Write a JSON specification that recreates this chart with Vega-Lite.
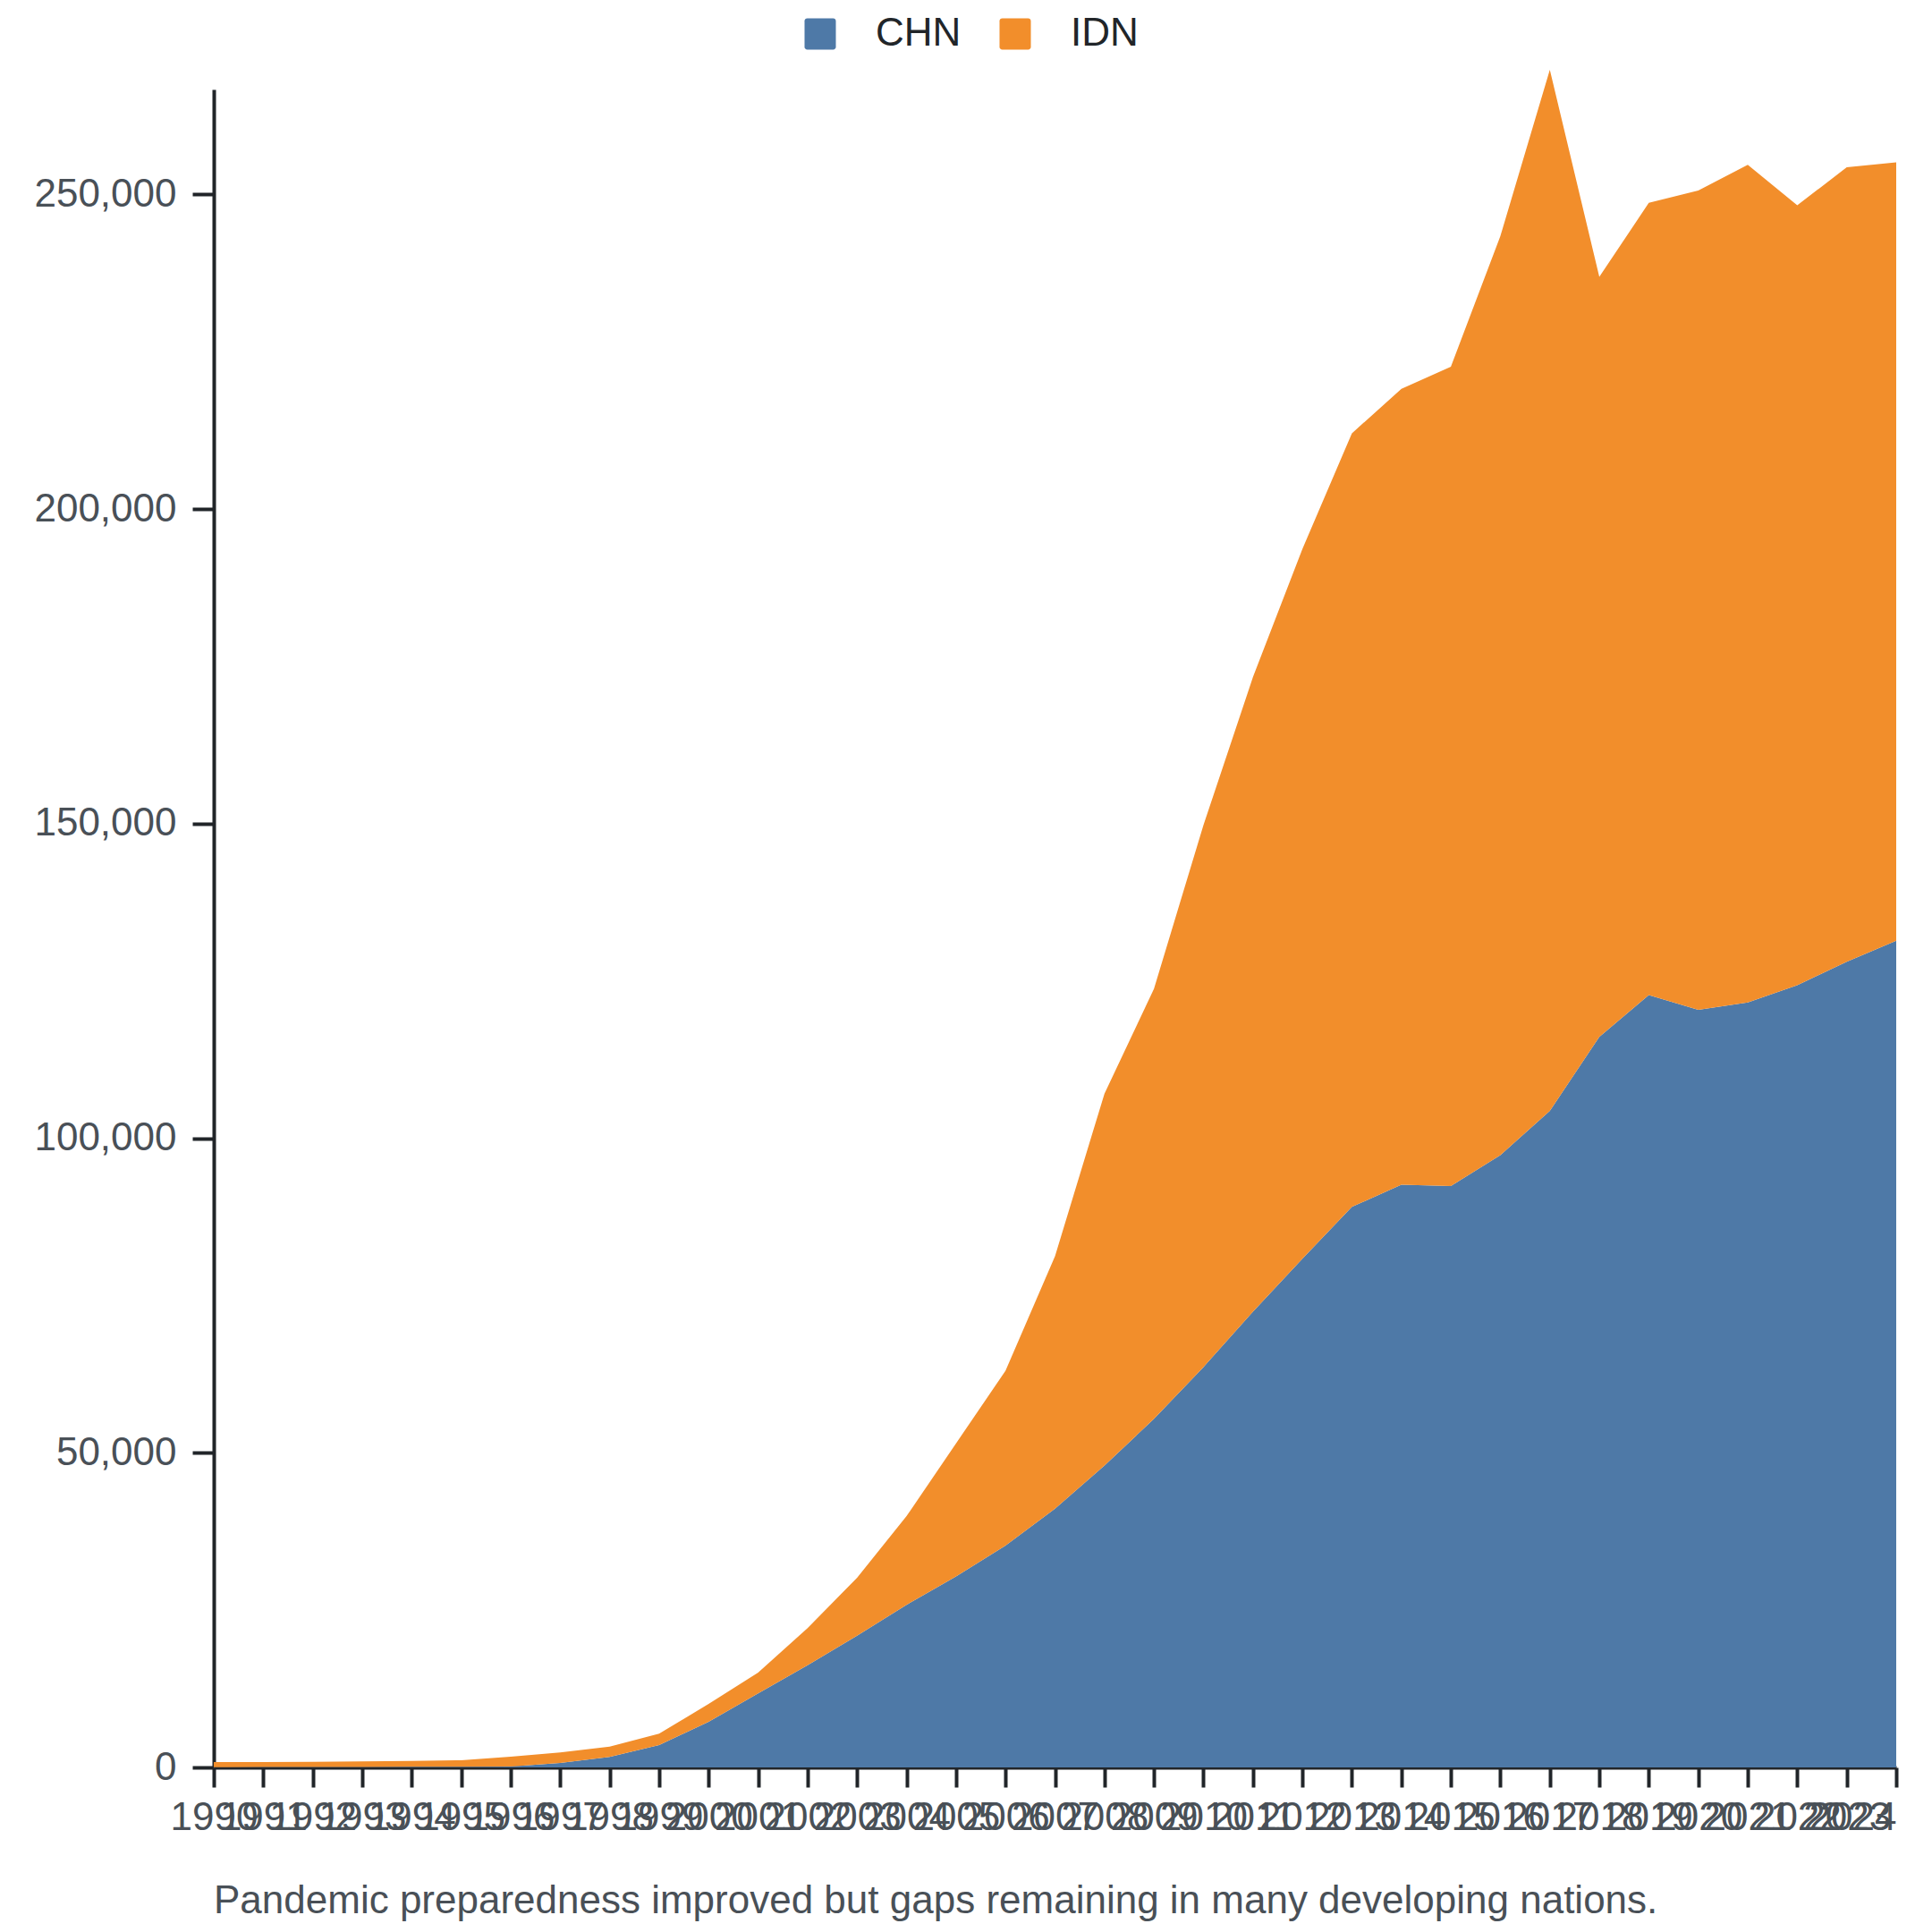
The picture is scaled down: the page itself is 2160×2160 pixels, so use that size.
{
  "$schema": "https://vega.github.io/schema/vega-lite/v6.json",
  "autosize": {"type": "none"},
  "width": 1881,
  "height": 1876,
  "padding": {"left": 239, "top": 100, "right": 40, "bottom": 184},
  "background": "white",
  "title": {
    "text": "Pandemic preparedness improved but gaps remaining in many developing nations.",
    "orient": "bottom",
    "anchor": "start",
    "frame": "group",
    "font": "Liberation Sans",
    "fontSize": 44,
    "fontWeight": "normal",
    "color": "#495057",
    "offset": 50
  },
  "data": {
    "values": [
      {"year": 1990, "country": "CHN", "value": 50},
      {"year": 1991, "country": "CHN", "value": 60},
      {"year": 1992, "country": "CHN", "value": 70},
      {"year": 1993, "country": "CHN", "value": 80},
      {"year": 1994, "country": "CHN", "value": 90},
      {"year": 1995, "country": "CHN", "value": 100},
      {"year": 1996, "country": "CHN", "value": 150},
      {"year": 1997, "country": "CHN", "value": 710},
      {"year": 1998, "country": "CHN", "value": 1660},
      {"year": 1999, "country": "CHN", "value": 3550},
      {"year": 2000, "country": "CHN", "value": 7250},
      {"year": 2001, "country": "CHN", "value": 11748},
      {"year": 2002, "country": "CHN", "value": 16251},
      {"year": 2003, "country": "CHN", "value": 20951},
      {"year": 2004, "country": "CHN", "value": 25846},
      {"year": 2005, "country": "CHN", "value": 30349},
      {"year": 2006, "country": "CHN", "value": 35244},
      {"year": 2007, "country": "CHN", "value": 41118},
      {"year": 2008, "country": "CHN", "value": 47971},
      {"year": 2009, "country": "CHN", "value": 55411},
      {"year": 2010, "country": "CHN", "value": 63635},
      {"year": 2011, "country": "CHN", "value": 72446},
      {"year": 2012, "country": "CHN", "value": 80865},
      {"year": 2013, "country": "CHN", "value": 89089},
      {"year": 2014, "country": "CHN", "value": 92613},
      {"year": 2015, "country": "CHN", "value": 92418},
      {"year": 2016, "country": "CHN", "value": 97313},
      {"year": 2017, "country": "CHN", "value": 104362},
      {"year": 2018, "country": "CHN", "value": 116109},
      {"year": 2019, "country": "CHN", "value": 122767},
      {"year": 2020, "country": "CHN", "value": 120417},
      {"year": 2021, "country": "CHN", "value": 121592},
      {"year": 2022, "country": "CHN", "value": 124333},
      {"year": 2023, "country": "CHN", "value": 128053},
      {"year": 2024, "country": "CHN", "value": 131382},
      {"year": 1990, "country": "IDN", "value": 800},
      {"year": 1991, "country": "IDN", "value": 810},
      {"year": 1992, "country": "IDN", "value": 830},
      {"year": 1993, "country": "IDN", "value": 870},
      {"year": 1994, "country": "IDN", "value": 930},
      {"year": 1995, "country": "IDN", "value": 1050},
      {"year": 1996, "country": "IDN", "value": 1555},
      {"year": 1997, "country": "IDN", "value": 1660},
      {"year": 1998, "country": "IDN", "value": 1650},
      {"year": 1999, "country": "IDN", "value": 1810},
      {"year": 2000, "country": "IDN", "value": 2840},
      {"year": 2001, "country": "IDN", "value": 3329},
      {"year": 2002, "country": "IDN", "value": 5874},
      {"year": 2003, "country": "IDN", "value": 9202},
      {"year": 2004, "country": "IDN", "value": 14097},
      {"year": 2005, "country": "IDN", "value": 21146},
      {"year": 2006, "country": "IDN", "value": 27804},
      {"year": 2007, "country": "IDN", "value": 40139},
      {"year": 2008, "country": "IDN", "value": 59132},
      {"year": 2009, "country": "IDN", "value": 68335},
      {"year": 2010, "country": "IDN", "value": 86152},
      {"year": 2011, "country": "IDN", "value": 100837},
      {"year": 2012, "country": "IDN", "value": 112781},
      {"year": 2013, "country": "IDN", "value": 122962},
      {"year": 2014, "country": "IDN", "value": 126487},
      {"year": 2015, "country": "IDN", "value": 130207},
      {"year": 2016, "country": "IDN", "value": 146066},
      {"year": 2017, "country": "IDN", "value": 165450},
      {"year": 2018, "country": "IDN", "value": 120809},
      {"year": 2019, "country": "IDN", "value": 125899},
      {"year": 2020, "country": "IDN", "value": 130207},
      {"year": 2021, "country": "IDN", "value": 133144},
      {"year": 2022, "country": "IDN", "value": 123942},
      {"year": 2023, "country": "IDN", "value": 126292},
      {"year": 2024, "country": "IDN", "value": 123746}
    ]
  },
  "mark": {"type": "area", "opacity": 1, "clip": false},
  "encoding": {
    "x": {
      "field": "year",
      "type": "quantitative",
      "scale": {"domain": [1990, 2024], "nice": false, "zero": false},
      "axis": {
        "title": null,
        "values": [1990, 1991, 1992, 1993, 1994, 1995, 1996, 1997, 1998, 1999, 2000, 2001, 2002, 2003, 2004, 2005, 2006, 2007, 2008, 2009, 2010, 2011, 2012, 2013, 2014, 2015, 2016, 2017, 2018, 2019, 2020, 2021, 2022, 2023, 2024],
        "format": "d",
        "labelOverlap": false,
        "labelFlush": false,
        "labelAlign": {"condition": {"test": "datum.value === 2024", "value": "right"}, "value": "center"},
        "labelFont": "Liberation Sans",
        "labelFontSize": 44,
        "labelColor": "#495057",
        "labelPadding": 12,
        "tickSize": 22,
        "tickWidth": 4,
        "tickColor": "#212529",
        "domainWidth": 4,
        "domainColor": "#212529",
        "grid": false
      }
    },
    "y": {
      "field": "value",
      "type": "quantitative",
      "stack": "zero",
      "scale": {"domain": [0, 266700], "nice": false},
      "axis": {
        "title": null,
        "values": [0, 50000, 100000, 150000, 200000, 250000],
        "format": ",.0f",
        "labelFont": "Liberation Sans",
        "labelFontSize": 44,
        "labelColor": "#495057",
        "labelPadding": 18,
        "tickSize": 24,
        "tickWidth": 4,
        "tickColor": "#212529",
        "domainWidth": 4,
        "domainColor": "#212529",
        "grid": false
      }
    },
    "order": {"field": "country", "sort": "ascending"},
    "color": {
      "field": "country",
      "type": "nominal",
      "scale": {"domain": ["CHN", "IDN"], "range": ["#4e79a7", "#f28e2b"]},
      "legend": {
        "title": null,
        "orient": "none",
        "direction": "horizontal",
        "legendX": 656,
        "legendY": -84,
        "padding": 0,
        "symbolType": "M -0.83,-1 L 0.83,-1 A 0.17,0.17 0 0 1 1,-0.83 L 1,0.83 A 0.17,0.17 0 0 1 0.83,1 L -0.83,1 A 0.17,0.17 0 0 1 -1,0.83 L -1,-0.83 A 0.17,0.17 0 0 1 -0.83,-1 Z",
        "symbolSize": 1225,
        "symbolStrokeWidth": 0,
        "symbolOpacity": 1,
        "labelFont": "Liberation Sans",
        "labelFontSize": 44,
        "labelColor": "#212529",
        "labelOffset": 40,
        "columnPadding": 38
      }
    }
  },
  "config": {
    "view": {"stroke": null},
    "font": "Liberation Sans"
  }
}
